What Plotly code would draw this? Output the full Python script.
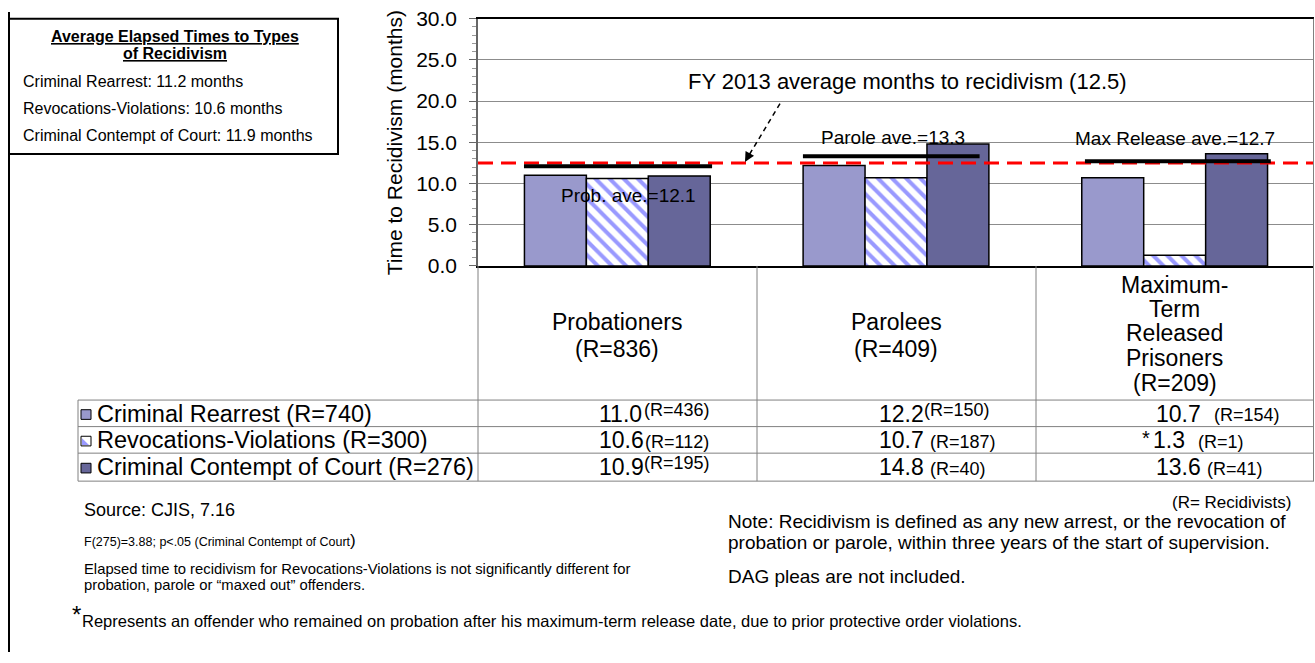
import plotly.graph_objects as go

# ---- data -------------------------------------------------------------
groups = ["Probationers", "Parolees", "Maximum-Term Released Prisoners"]
group_header_lines = [["Probationers"], ["Parolees"], ["Maximum-", "Term", "Released", "Prisoners"]]
group_n = [836, 409, 209]

series_names = ["Criminal Rearrest", "Revocations-Violations", "Criminal Contempt of Court"]
series_n = [740, 300, 276]

rearrest = [11.0, 12.2, 10.7]
revocations = [10.6, 10.7, 1.3]
contempt = [10.9, 14.8, 13.6]

rearrest_r = [436, 150, 154]
revocations_r = [112, 187, 1]
contempt_r = [195, 40, 41]

group_avg_names = ["Prob.", "Parole", "Max Release"]
group_avg = [12.1, 13.3, 12.7]
overall_avg = 12.5

type_avg = [11.2, 10.6, 11.9]

# ---- page geometry helpers (pixels -> paper) --------------------------
W, H = 1315, 663
PLOT_L, PLOT_R, PLOT_T, PLOT_B = 478, 1314, 7, 263
YMAX = 30.0


def px(x):
    return x / W


def py(y):
    return 1 - y / H


def ypix(v):
    return PLOT_B - v / YMAX * (PLOT_B - PLOT_T)


FONT = "Arial, Liberation Sans, sans-serif"
C_REARREST = "#9999CC"
C_CONTEMPT = "#666699"
C_HATCH = "#9999FF"
GRID = "#8c8c8c"

xs = list(range(len(groups)))

fig = go.Figure()
fig.add_trace(go.Bar(
    x=xs, y=rearrest, name=series_names[0],
    marker=dict(color=C_REARREST, line=dict(color="black", width=1.5)),
    hoverinfo="skip"))
fig.add_trace(go.Bar(
    x=xs, y=revocations, name=series_names[1],
    marker=dict(color="white", line=dict(color="black", width=1.5),
                pattern=dict(shape="\\", fgcolor=C_HATCH, bgcolor="white",
                             size=10, solidity=0.4, fillmode="replace")),
    hoverinfo="skip"))
fig.add_trace(go.Bar(
    x=xs, y=contempt, name=series_names[2],
    marker=dict(color=C_CONTEMPT, line=dict(color="black", width=1.5)),
    hoverinfo="skip"))

shapes = []
ann = []

# overall average (red dashed)
shapes.append(dict(type="line", xref="x domain", yref="y", x0=0, x1=1,
                   y0=overall_avg, y1=overall_avg,
                   line=dict(color="red", width=3, dash="15px,8px")))

# group averages (black bars across each cluster)
avg_span = [(-0.335, 0.34), (0.666, 1.30), (1.678, 2.345)]
for (a, b), v in zip(avg_span, group_avg):
    shapes.append(dict(type="line", xref="x", yref="y", x0=a, x1=b, y0=v, y1=v,
                       line=dict(color="black", width=4)))

# average labels
avg_label_pos = [(628, 190), (893, 130), (1175, 131)]
for name, v, (lx, ly) in zip(group_avg_names, group_avg, avg_label_pos):
    ann.append(dict(xref="paper", yref="paper", x=px(lx), y=py(ly),
                    text=f"{name} ave.={v}", showarrow=False,
                    xanchor="center", yanchor="middle",
                    font=dict(size=19, color="black", family=FONT)))

# overall average caption with dashed pointer
ann.append(dict(xref="paper", yref="paper", x=px(907), y=py(72),
                text=f"FY 2013 average months to recidivism ({overall_avg})",
                showarrow=False, xanchor="center", yanchor="middle",
                font=dict(size=22, color="black", family=FONT)))
tail_x, tail_y = 780, 95
tip_x, tip_y = 745, ypix(overall_avg) - 1
shapes.append(dict(type="line", xref="paper", yref="paper",
                   x0=px(tail_x), y0=py(tail_y), x1=px(tip_x + 4), y1=py(tip_y - 7),
                   line=dict(color="black", width=1.5, dash="5px,4px")))
ann.append(dict(xref="paper", yref="paper", x=px(tip_x), y=py(tip_y),
                ax=4.9, ay=-8.7, text="", showarrow=True, arrowhead=2,
                arrowsize=1.3, arrowwidth=1.5, arrowcolor="black"))

# y axis title
ann.append(dict(xref="paper", yref="paper", x=px(394), y=py(136),
                text="Time to Recidivism (months)", textangle=-90,
                showarrow=False, xanchor="center", yanchor="middle",
                font=dict(size=21, color="black", family=FONT)))

# ---- data table under the plot ---------------------------------------
T_LEFT = 78
row_lines = [402, 429.5, 457, 486]
col_lines = [PLOT_L, 757, 1036]
line_style = dict(color="#808080", width=1)

for y in row_lines:
    shapes.append(dict(type="line", xref="paper", yref="paper",
                       x0=px(T_LEFT), x1=px(PLOT_R), y0=py(y), y1=py(y), line=line_style))
shapes.append(dict(type="line", xref="paper", yref="paper",
                   x0=px(T_LEFT), x1=px(T_LEFT), y0=py(row_lines[0]), y1=py(row_lines[-1]),
                   line=line_style))
for x in col_lines:
    shapes.append(dict(type="line", xref="paper", yref="paper",
                       x0=px(x), x1=px(x), y0=py(PLOT_B), y1=py(row_lines[-1]), line=line_style))
shapes.append(dict(type="line", xref="paper", yref="paper",
                   x0=px(PLOT_R - 0.5), x1=px(PLOT_R - 0.5), y0=py(PLOT_T), y1=py(row_lines[-1]),
                   line=line_style))

# column headers
col_w = (PLOT_R - PLOT_L) / len(groups)
header_y = {1: [321, 349], 4: [283, 308, 333, 358, 384]}
for i, (lines, n) in enumerate(zip(group_header_lines, group_n)):
    cx = PLOT_L + (i + 0.5) * col_w
    texts = lines + [f"(R={n})"]
    for t, yy in zip(texts, header_y[len(lines)]):
        ann.append(dict(xref="paper", yref="paper", x=px(cx), y=py(yy), text=t,
                        showarrow=False, xanchor="center", yanchor="middle",
                        font=dict(size=23, color="black", family=FONT)))

# row labels with legend keys
row_y = [416, 443.5, 471.5]
for name, n, yy in zip(series_names, series_n, row_y):
    ann.append(dict(xref="paper", yref="paper", x=px(95), y=py(yy),
                    text=f"{name} (R={n})", showarrow=False,
                    xanchor="left", yanchor="middle",
                    font=dict(size=23.5, color="black", family=FONT)))
key_fill = [C_REARREST, "white", C_CONTEMPT]
for fill, yy in zip(key_fill, row_y):
    shapes.append(dict(type="rect", xref="paper", yref="paper",
                       x0=px(81), x1=px(91), y0=py(yy - 4), y1=py(yy + 6),
                       fillcolor=fill, line=dict(color="black", width=1)))
# hatched key: blue corner
ky = row_y[1]
shapes.append(dict(type="path", xref="paper", yref="paper",
                   path=f"M {px(82)},{py(ky - 2)} L {px(82)},{py(ky + 5)} L {px(89)},{py(ky + 5)} Z",
                   fillcolor=C_HATCH, line=dict(width=0)))

# table values: number in large type, recidivist count in smaller type
VAL_SIZE, R_SIZE = 23, 18
series_vals = [rearrest, revocations, contempt]
series_r = [rearrest_r, revocations_r, contempt_r]
cell_start = [597, 877, 1154]
# (raised, gap in px between number and count)
cell_style = [[(True, 0), (True, 0), (False, 13)],
              [(False, 1), (False, 6), (False, 13)],
              [(True, 0), (False, 6), (False, 6)]]


def num_width(s, size):
    return sum(0.278 if ch == "." else 0.556 for ch in s) * size


for r, (vals, rs, yy) in enumerate(zip(series_vals, series_r, row_y)):
    for c in range(len(groups)):
        raised, gap = cell_style[r][c]
        vtxt = f"{vals[c]:.1f}"
        x0 = cell_start[c]
        if r == 1 and c == 2:
            ann.append(dict(xref="paper", yref="paper", x=px(1140), y=py(yy - 2),
                            text="*", showarrow=False, xanchor="left", yanchor="middle",
                            font=dict(size=20, color="black", family=FONT)))
            x0 = 1151
        ann.append(dict(xref="paper", yref="paper", x=px(x0), y=py(yy),
                        text=vtxt, showarrow=False, xanchor="left", yanchor="middle",
                        font=dict(size=VAL_SIZE, color="black", family=FONT)))
        rx = x0 + num_width(vtxt, VAL_SIZE) + gap
        ann.append(dict(xref="paper", yref="paper", x=px(rx), y=py(yy - 4 if raised else yy + 1.5),
                        text=f"(R={rs[c]})", showarrow=False, xanchor="left", yanchor="middle",
                        font=dict(size=R_SIZE, color="black", family=FONT)))

# ---- side box -----------------------------------------------------------
shapes.append(dict(type="line", xref="paper", yref="paper", x0=px(9), x1=px(9),
                   y0=0, y1=1, line=dict(color="black", width=2)))
shapes.append(dict(type="rect", xref="paper", yref="paper",
                   x0=px(9), x1=px(338), y0=py(147), y1=py(7),
                   fillcolor="white", line=dict(color="black", width=2)))
for t, yy in zip(["Average Elapsed Times to Types", "of Recidivism"], [25, 43]):
    ann.append(dict(xref="paper", yref="paper", x=px(175), y=py(yy),
                    text=f"<b><u>{t}</u></b>", showarrow=False,
                    xanchor="center", yanchor="middle",
                    font=dict(size=16, color="black", family=FONT)))
for name, v, yy in zip(series_names, type_avg, [72, 100, 128]):
    ann.append(dict(xref="paper", yref="paper", x=px(21), y=py(yy),
                    text=f"{name}: {v} months", showarrow=False,
                    xanchor="left", yanchor="middle",
                    font=dict(size=16, color="black", family=FONT)))


# ---- notes ------------------------------------------------------------------
def note(text, x, y, size, anchor="left"):
    ann.append(dict(xref="paper", yref="paper", x=px(x), y=py(y), text=text,
                    showarrow=False, xanchor=anchor, yanchor="middle", align="left",
                    font=dict(size=size, color="black", family=FONT)))


note("(R= Recidivists)", 1294, 508, 17, anchor="right")
note("Source: CJIS, 7.16", 82, 516, 18)
note("F(275)=3.88; p&lt;.05 (Criminal Contempt of Court<span style='font-size:17px'>)</span>", 82, 548, 12.5)
note("Elapsed time to recidivism for Revocations-Violations is not significantly different for", 82, 577, 14.8)
note("probation, parole or \u201cmaxed out\u201d offenders.", 82, 594, 14.8)
note("Note: Recidivism is defined as any new arrest, or the revocation of", 726, 528, 19)
note("probation or parole, within three years of the start of supervision.", 726, 550, 19)
note("DAG pleas are not included.", 726, 585, 19)
note("*", 70, 624, 24)
note("Represents an offender who remained on probation after his maximum-term release date, due to prior protective order violations.", 80, 631, 16.5)

fig.update_layout(
    width=W, height=H,
    margin=dict(l=0, r=0, t=0, b=0),
    paper_bgcolor="white", plot_bgcolor="white",
    barmode="group", bargap=1 / 3, bargroupgap=0,
    showlegend=False,
    font=dict(family=FONT, color="black"),
    shapes=shapes, annotations=ann,
    xaxis=dict(domain=[px(PLOT_L), px(PLOT_R)], range=[-0.5, len(groups) - 0.5],
               showticklabels=False, ticks="", showgrid=False, zeroline=False,
               showline=True, linecolor="black", linewidth=2, mirror=True,
               fixedrange=True),
    yaxis=dict(domain=[py(PLOT_B), py(PLOT_T)], range=[0, YMAX],
               tickvals=[0, 5, 10, 15, 20, 25, 30], tickformat=".1f",
               tickfont=dict(size=21, color="black", family=FONT),
               ticks="outside", ticklen=7, tickcolor="#666666", ticklabelstandoff=8,
               ticklabeloverflow="allow",
               showgrid=True, gridcolor=GRID, gridwidth=1, zeroline=False,
               showline=True, linecolor="#666666", linewidth=1.5,
               minor=dict(dtick=1, ticks="outside", ticklen=4, tickcolor="#999999", showgrid=False),
               fixedrange=True),
)

fig.write_html("out.html")
